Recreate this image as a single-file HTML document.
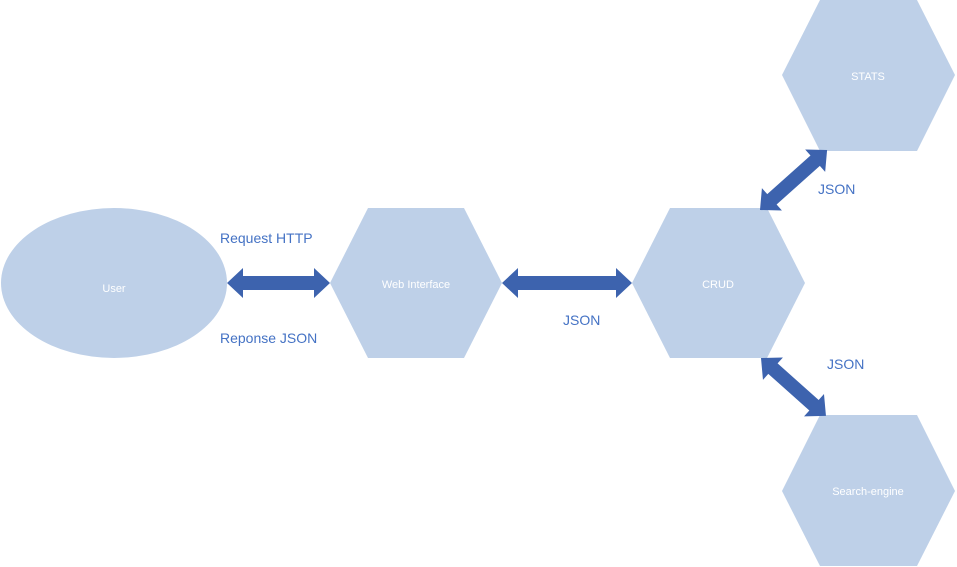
<!DOCTYPE html>
<html><head><meta charset="utf-8"><style>
html,body{margin:0;padding:0;background:#fff;}
svg{display:block;}
.w{fill:#fff;font-family:"Liberation Sans",sans-serif;font-size:11px;text-anchor:middle;}
.b{fill:#4472c4;font-family:"Liberation Sans",sans-serif;font-size:14px;}
</style></head><body>
<svg width="957" height="567" viewBox="0 0 957 567" xmlns="http://www.w3.org/2000/svg">
<defs>
<!-- double arrow along x from 0 to L=100, centered at y=0 -->
</defs>
<ellipse cx="114" cy="283" rx="113" ry="75" fill="#bed0e8"/>
<polygon points="330,283 368,208 464,208 502,283 464,358 368,358" fill="#bed0e8"/>
<polygon points="632,283 670,208 767,208 805,283 767,358 670,358" fill="#bed0e8"/>
<polygon points="782,75 820,0 917,0 955,75 917,151 820,151" fill="#bed0e8"/>
<polygon points="782,491 820,415 917,415 955,491 917,566 820,566" fill="#bed0e8"/>

<g fill="#3d63ae">
<polygon points="227,283 243,268 243,276 314,276 314,268 330,283 314,298 314,290 243,290 243,298"/>
<polygon points="502,283 518,268 518,276 616,276 616,268 632,283 616,298 616,290 518,290 518,298"/>
<g transform="translate(760,210) rotate(-41.8)">
<polygon points="0,0 16,-15 16,-7 74,-7 74,-15 90,0 74,15 74,7 16,7 16,15"/>
</g>
<g transform="translate(761,358) rotate(41.7)">
<polygon points="0,0 16,-15 16,-7 71,-7 71,-15 87,0 71,15 71,7 16,7 16,15"/>
</g>
</g>

<text class="w" x="114" y="292">User</text>
<text class="w" x="416" y="288">Web Interface</text>
<text class="w" x="718" y="288">CRUD</text>
<text class="w" x="868" y="80">STATS</text>
<text class="w" x="868" y="495">Search-engine</text>

<text class="b" x="220" y="243">Request HTTP</text>
<text class="b" x="220" y="343">Reponse JSON</text>
<text class="b" x="563" y="325">JSON</text>
<text class="b" x="818" y="194">JSON</text>
<text class="b" x="827" y="369">JSON</text>
</svg>
</body></html>
